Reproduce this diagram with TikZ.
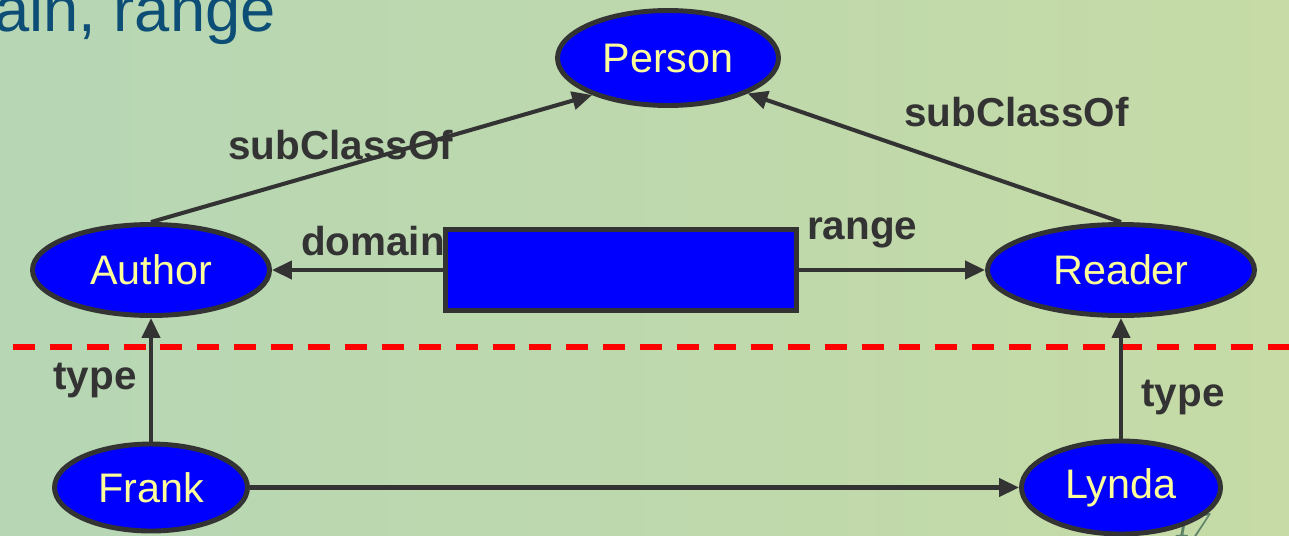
\documentclass[tikz,border=0pt]{standalone}
\usepackage{fontspec}
\setmainfont{Liberation Sans}
\newfontfamily\pagefont{Liberation Serif}
\usetikzlibrary{positioning, shapes.geometric, arrows.meta}

\definecolor{bgleft}{RGB}{182,214,180}
\definecolor{bgright}{RGB}{198,219,166}
\definecolor{edgegray}{RGB}{51,51,51}
\definecolor{classblue}{RGB}{0,0,255}
\definecolor{classtext}{RGB}{255,255,153}
\definecolor{titleblue}{RGB}{12,78,118}
\definecolor{pagegreen}{RGB}{92,130,104}

\pgfdeclarelayer{back}
\pgfsetlayers{back,main}

\begin{document}
\begin{tikzpicture}[node distance=3cm, on grid,
  class/.style={ellipse, draw=edgegray, line width=2.8pt, fill=classblue,
    text=classtext, inner sep=0pt, font=\fontsize{23.5}{28}\selectfont},
  propbox/.style={rectangle, draw=edgegray, line width=2.8pt, fill=classblue},
  lbl/.style={text=edgegray, inner sep=0pt, font=\bfseries\fontsize{23}{27}\selectfont},
  link/.style={draw=edgegray, line width=2.3pt, -{Triangle[length=0.4cm, width=0.36cm]}},
  cut/.style={draw=red, line width=3.4pt, dash pattern=on 12.5pt off 8.5pt, dash phase=13.7pt}]
  \useasboundingbox (0,0) rectangle (25.78,-10.70);

  \node[anchor=base west, text=titleblue, inner sep=0pt,
    font=\fontsize{36}{42}\selectfont] (title) at (-0.12,-0.62) {ain, range};
  \node[text=pagegreen, font=\pagefont\itshape\fontsize{20}{24}\selectfont] (page) at (23.84,-10.5) {17};

  \node[class, minimum width=4.74cm, minimum height=1.82cm] (author) at (3.02,-5.4) {Author};
  \node[class, minimum width=3.86cm, minimum height=1.74cm] (frank) [below=4.35cm of author] {Frank};
  \node[propbox, minimum width=7.02cm, minimum height=1.62cm] (box) [right=9.4cm of author] {};
  \node[class, minimum width=5.34cm, minimum height=1.82cm] (reader) [right=19.4cm of author] {Reader};
  \node[class, minimum width=3.98cm, minimum height=1.86cm] (lynda) [below=4.35cm of reader] {Lynda};
  \node[class, minimum width=4.42cm, minimum height=1.9cm] (person) [above right=4.24cm and 10.34cm of author] {Person};

  \coordinate (cutL) at (0,-6.94);
  \coordinate (cutR) at (25.78,-6.94);

  \begin{pgfonlayer}{back}
  \fill[left color=bgleft, right color=bgright] (0,0) rectangle (25.78,-10.70);
  \draw[cut] (cutL) -- (cutR);

  \path
  (author.north) edge [link] node[lbl, pos=0.43, yshift=0.44cm] {subClassOf} (person.206)
  (reader.north) edge [link] node[lbl, pos=0.28, yshift=1.48cm] {subClassOf} (person.336)
  (box.west) edge [link] node[lbl, pos=0.41, yshift=0.58cm] {domain} (author.east)
  (box.east) edge [link] node[lbl, pos=0.34, yshift=0.74cm] {range} (reader.west)
  (frank.north) edge [link] node[lbl, pos=0.49, xshift=-1.12cm] {type} (author.south)
  (lynda.north) edge [link] node[lbl, pos=0.34, xshift=1.24cm] {type} (reader.south)
  (frank.east) edge [link] (lynda.west)
  ;
  \end{pgfonlayer}
\end{tikzpicture}
\end{document}
